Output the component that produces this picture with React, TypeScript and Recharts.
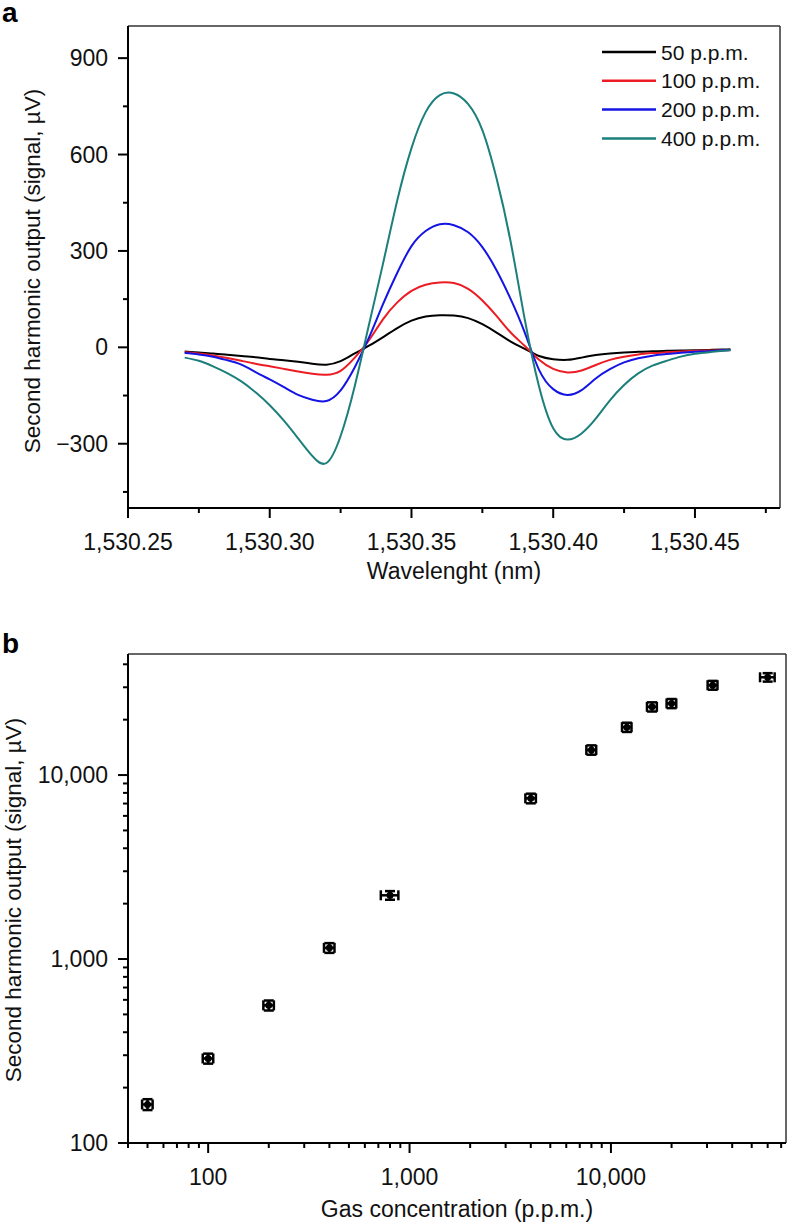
import { LineChart, Line, XAxis, YAxis, ScatterChart, Scatter, ErrorBar, Legend, ReferenceLine } from 'recharts';

const FONT = "'Liberation Sans', Arial, Helvetica, sans-serif";

// panel a: second harmonic signal vs wavelength
const wavelengths = [
  1530.27, 1530.275, 1530.28, 1530.285, 1530.29, 1530.295, 1530.3, 1530.305, 1530.31, 1530.315,
  1530.32, 1530.325, 1530.33, 1530.335, 1530.34, 1530.345, 1530.35, 1530.355, 1530.36, 1530.365,
  1530.37, 1530.375, 1530.38, 1530.385, 1530.39, 1530.395, 1530.4, 1530.405, 1530.41, 1530.415,
  1530.42, 1530.425, 1530.43, 1530.435, 1530.44, 1530.445, 1530.45, 1530.455, 1530.46, 1530.4625,
];
const ppm50 = [
  -13, -16, -19, -23, -27, -31, -36, -40, -45, -51, -54, -43, -19, 5, 32, 60, 83, 96, 100, 99,
  91, 72, 46, 18, -5, -27, -37, -39, -32, -24, -19, -16, -14, -12, -11, -10, -9, -8, -7, -6,
];
const ppm100 = [
  -15, -19, -25, -33, -42, -51, -59, -67, -75, -82, -85, -73, -32, 22, 88, 140, 176, 195, 202, 200,
  182, 146, 98, 46, 4, -39, -67, -78, -72, -55, -39, -29, -22, -18, -15, -13, -11, -10, -9, -8,
];
const ppm200 = [
  -18, -22, -29, -40, -54, -77, -100, -124, -148, -163, -167, -134, -62, 30, 135, 232, 315, 362, 383, 380,
  358, 312, 240, 150, 45, -70, -130, -148, -133, -97, -68, -47, -34, -26, -21, -17, -14, -12, -9, -8,
];
const ppm400 = [
  -32, -42, -59, -80, -106, -140, -180, -228, -283, -338, -360, -276, -120, 70, 262, 458, 620, 732, 785, 790,
  757, 676, 526, 328, 85, -122, -252, -287, -268, -222, -165, -117, -81, -57, -42, -29, -20, -15, -11, -9,
];
const seriesKeys = ['p50', 'p100', 'p200', 'p400'];
const seriesNames = ['50 p.p.m.', '100 p.p.m.', '200 p.p.m.', '400 p.p.m.'];
const seriesColors = ['#000000', '#ec1c24', '#1414e4', '#1c7f7b'];

const aXMajor = [1530.25, 1530.3, 1530.35, 1530.4, 1530.45];
const aXMinor = [1530.275, 1530.325, 1530.375, 1530.425, 1530.475];
const aYMajor = [-300, 0, 300, 600, 900];
const aYMinor = [-450, -150, 150, 450, 750];

// panel b: signal vs concentration (log-log)
const concentrations = [50, 100, 200, 400, 800, 4000, 8000, 12000, 16000, 20000, 32000, 60000];
const signals = [162, 288, 560, 1150, 2220, 7470, 13700, 18200, 23500, 24500, 30800, 34000];
const concErr = [3, 6, 12, 24, 80, 240, 450, 650, 900, 1100, 1800, 5000];
const signalErr = [11, 18, 35, 70, 120, 450, 800, 1050, 1350, 1400, 1700, 1800];

const bXMajor = [100, 1000, 10000];
const bXMinor = [
  40, 50, 60, 70, 80, 90, 200, 300, 400, 500, 600, 700, 800, 900,
  2000, 3000, 4000, 5000, 6000, 7000, 8000, 9000, 20000, 30000, 40000, 50000, 60000, 70000,
];
const bYMajor = [100, 1000, 10000];
const bYMinor = [200, 300, 400, 500, 600, 700, 800, 900, 2000, 3000, 4000, 5000, 6000, 7000, 8000, 9000, 20000, 30000, 40000];

const dataA = wavelengths.map((wl, i) => ({
  wl,
  p50: ppm50[i],
  p100: ppm100[i],
  p200: ppm200[i],
  p400: ppm400[i],
}));

const dataB = concentrations.map((c, i) => ({
  conc: c,
  signal: signals[i],
  xErr: concErr[i],
  yErr: signalErr[i],
}));

const isIn = (list: number[], v: number) => list.some((m) => Math.abs(m - v) < 1e-6);

const fmtA = (v: number) => v.toLocaleString('en-US', { minimumFractionDigits: 2, maximumFractionDigits: 2 });
const fmtAY = (v: number) => (v < 0 ? '\u2212' + Math.abs(v) : String(v));
const fmtB = (v: number) => v.toLocaleString('en-US');

const BottomTick = (props: any) => {
  const { x, y, payload, majors, fmt } = props;
  const major = isIn(majors, payload.value);
  return (
    <g>
      <line x1={x} x2={x} y1={y} y2={y + (major ? 10 : 5)} stroke="#000" strokeWidth={2} />
      {major && (
        <text x={x} y={y + 42} textAnchor="middle" fontSize={23} fontFamily={FONT} fill="#111">
          {fmt(payload.value)}
        </text>
      )}
    </g>
  );
};

const LeftTick = (props: any) => {
  const { x, y, payload, majors, fmt } = props;
  const major = isIn(majors, payload.value);
  return (
    <g>
      <line x1={x - (major ? 10 : 5)} x2={x} y1={y} y2={y} stroke="#000" strokeWidth={2} />
      {major && (
        <text x={x - 20} y={y + 8} textAnchor="end" fontSize={23} fontFamily={FONT} fill="#111">
          {fmt(payload.value)}
        </text>
      )}
    </g>
  );
};

const renderLegend = () => (
  <svg width={190} height={120}>
    {seriesNames.map((name, i) => (
      <g key={name}>
        <line x1={2} x2={56} y1={14 + i * 28.8} y2={14 + i * 28.8} stroke={seriesColors[i]} strokeWidth={2.5} />
        <text x={61} y={21.5 + i * 28.8} fontSize={21} fontFamily={FONT} fill="#111">
          {name}
        </text>
      </g>
    ))}
  </svg>
);

export default function App() {
  return (
    <div style={{ position: 'absolute', left: 0, top: 0, width: 788, height: 1225, background: '#fff', fontFamily: FONT }}>
      <div style={{ position: 'absolute', left: 0, top: 0 }}>
        <LineChart width={788} height={600} data={dataA} margin={{ top: 26, right: 8, bottom: 32, left: 0 }}>
          <XAxis
            type="number"
            dataKey="wl"
            domain={[1530.25, 1530.48]}
            allowDataOverflow
            ticks={[...aXMajor, ...aXMinor]}
            interval={0}
            height={60}
            tickSize={0}
            tickMargin={0}
            tickLine={false}
            axisLine={{ stroke: '#000', strokeWidth: 2 }}
            tick={(p: any) => <BottomTick {...p} majors={aXMajor} fmt={fmtA} />}
          />
          <YAxis
            type="number"
            domain={[-500, 1000]}
            allowDataOverflow
            ticks={[...aYMajor, ...aYMinor]}
            interval={0}
            width={128}
            tickSize={0}
            tickMargin={0}
            tickLine={false}
            axisLine={{ stroke: '#000', strokeWidth: 2 }}
            tick={(p: any) => <LeftTick {...p} majors={aYMajor} fmt={fmtAY} />}
          />
          <ReferenceLine y={1000} stroke="#333" strokeWidth={1.5} />
          <ReferenceLine x={1530.48} stroke="#333" strokeWidth={1.5} />
          <Legend
            layout="vertical"
            align="center"
            verticalAlign="middle"
            content={renderLegend}
            wrapperStyle={{ left: 600, top: 38, width: 190, height: 120 }}
          />
          {seriesKeys.map((k, i) => (
            <Line
              key={k}
              type="natural"
              dataKey={k}
              name={seriesNames[i]}
              stroke={seriesColors[i]}
              strokeWidth={2}
              dot={false}
              isAnimationActive={false}
            />
          ))}
        </LineChart>
      </div>

      <div style={{ position: 'absolute', left: 0, top: 620 }}>
        <ScatterChart width={788} height={605} margin={{ top: 34, right: 2, bottom: 22, left: 0 }}>
          <XAxis
            type="number"
            dataKey="conc"
            scale="log"
            domain={[40, 74000]}
            allowDataOverflow
            ticks={[...bXMajor, ...bXMinor]}
            interval={0}
            height={60}
            tickSize={0}
            tickMargin={0}
            tickLine={false}
            axisLine={{ stroke: '#000', strokeWidth: 2 }}
            tick={(p: any) => <BottomTick {...p} majors={bXMajor} fmt={fmtB} />}
          />
          <YAxis
            type="number"
            dataKey="signal"
            scale="log"
            domain={[100, 45500]}
            allowDataOverflow
            ticks={[...bYMajor, ...bYMinor]}
            interval={0}
            width={128}
            tickSize={0}
            tickMargin={0}
            tickLine={false}
            axisLine={{ stroke: '#000', strokeWidth: 2 }}
            tick={(p: any) => <LeftTick {...p} majors={bYMajor} fmt={fmtB} />}
          />
          <ReferenceLine y={45500} stroke="#333" strokeWidth={1.5} />
          <ReferenceLine x={74000} stroke="#333" strokeWidth={1.5} />
          <Scatter
            data={dataB}
            fill="#000"
            isAnimationActive={false}
            shape={(p: any) => <circle cx={p.cx} cy={p.cy} r={3.5} fill="#000" />}
          >
            <ErrorBar dataKey="xErr" direction="x" width={5} stroke="#000" strokeWidth={2.5} isAnimationActive={false} />
            <ErrorBar dataKey="yErr" direction="y" width={5} stroke="#000" strokeWidth={2.5} isAnimationActive={false} />
          </Scatter>
        </ScatterChart>
      </div>

      <svg width={788} height={1225} style={{ position: 'absolute', left: 0, top: 0, pointerEvents: 'none' }}>
        <text x={2} y={22} fontSize={28} fontWeight="bold" fontFamily={FONT} fill="#000">a</text>
        <text x={40} y={271} transform="rotate(-90 40 271)" textAnchor="middle" fontSize={22.5} fontFamily={FONT} fill="#111">
          Second harmonic output (signal, µV)
        </text>
        <text x={454} y={579} textAnchor="middle" fontSize={23} fontFamily={FONT} fill="#111">Wavelenght (nm)</text>
        <text x={2} y={653} fontSize={28} fontWeight="bold" fontFamily={FONT} fill="#000">b</text>
        <text x={21} y={900} transform="rotate(-90 21 900)" textAnchor="middle" fontSize={22.5} fontFamily={FONT} fill="#111">
          Second harmonic output (signal, µV)
        </text>
        <text x={457} y={1217} textAnchor="middle" fontSize={23} fontFamily={FONT} fill="#111">Gas concentration (p.p.m.)</text>
      </svg>
    </div>
  );
}
